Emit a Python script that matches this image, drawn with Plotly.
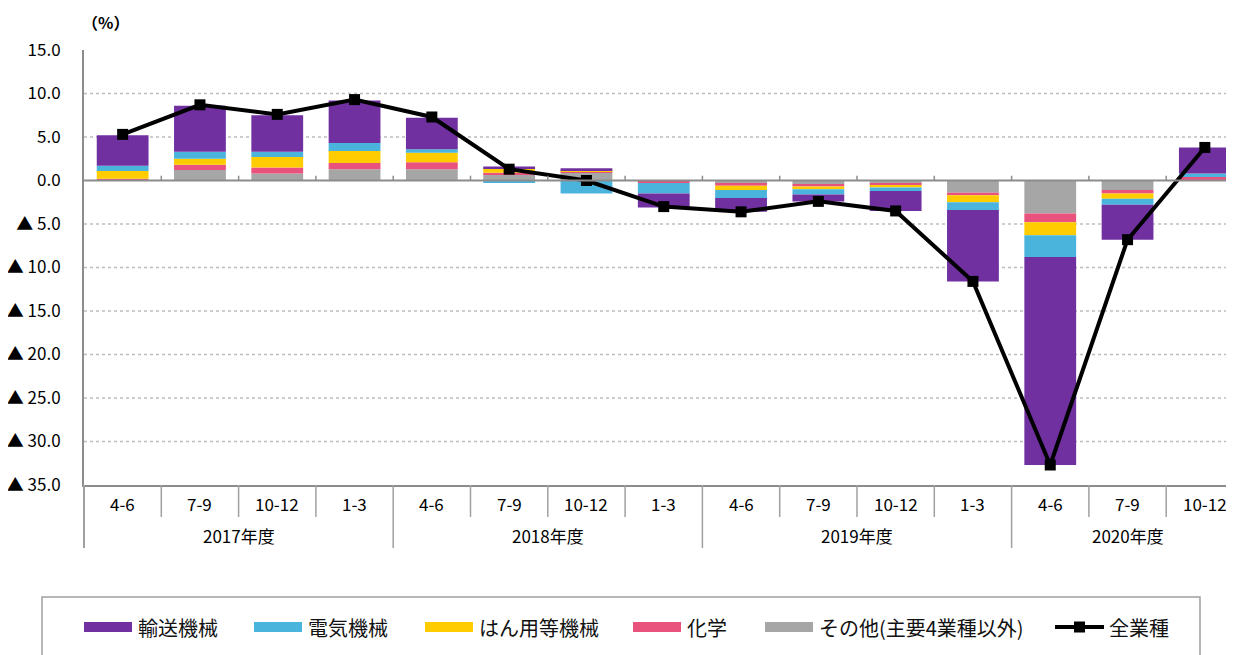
import plotly.graph_objects as go

# ---------------- data ----------------
quarters = ["4-6", "7-9", "10-12", "1-3",
            "4-6", "7-9", "10-12", "1-3",
            "4-6", "7-9", "10-12", "1-3",
            "4-6", "7-9", "10-12"]
years = ["2017年度", "2018年度", "2019年度", "2020年度"]
year_spans = [(0, 3), (4, 7), (8, 11), (12, 14)]

series_names = ["輸送機械", "電気機械", "はん用等機械", "化学", "その他(主要4業種以外)"]
total_name = "全業種"

transport = [3.5, 5.3, 4.2, 4.9, 3.6, 0.2, 0.2, -1.6, -1.6, -0.8, -2.3, -8.2, -23.9, -4.0, 3.0]
electric = [0.6, 0.8, 0.6, 0.9, 0.4, -0.3, -1.5, -1.2, -0.9, -0.6, -0.4, -0.9, -2.5, -0.7, 0.4]
general = [0.9, 0.7, 1.2, 1.4, 1.1, 0.5, 0.15, 0.0, -0.5, -0.3, -0.2, -0.8, -1.5, -0.6, 0.0]
chemical = [0.15, 0.6, 0.7, 0.7, 0.8, 0.2, 0.15, -0.2, -0.2, -0.3, -0.2, -0.3, -1.0, -0.4, 0.4]
other = [0.05, 1.2, 0.8, 1.3, 1.3, 0.7, 0.9, -0.1, -0.4, -0.4, -0.4, -1.4, -3.8, -1.1, 0.0]
total = [5.3, 8.7, 7.6, 9.3, 7.3, 1.3, 0.0, -3.0, -3.6, -2.4, -3.5, -11.6, -32.7, -6.8, 3.8]

y_tickvals = [15, 10, 5, 0, -5, -10, -15, -20, -25, -30, -35]
y_ticktext = ["15.0", "10.0", "5.0", "0.0", "▲ 5.0", "▲ 10.0", "▲ 15.0",
              "▲ 20.0", "▲ 25.0", "▲ 30.0", "▲ 35.0"]

colors = {
    "輸送機械": "#7030A0",
    "電気機械": "#4AB4DD",
    "はん用等機械": "#FFCC00",
    "化学": "#E9527D",
    "その他(主要4業種以外)": "#A6A6A6",
}

# ---------------- layout geometry (page px -> figure) ----------------
OFF = 8                 # browser body margin
W, H = 1234 - OFF, 655 - OFF
PAGE_L, PAGE_T, PAGE_B = 84, 50, 485
L = PAGE_L - OFF
T = PAGE_T - OFF
B = H - (PAGE_B - OFF)
PLOT_H = PAGE_B - PAGE_T
PLOT_W = W - L
CAT_W = 77.3
x_range = [-0.5, -0.5 + PLOT_W / CAT_W]


def px_x(x):   # page x -> paper
    return (x - PAGE_L) / PLOT_W


def px_y(y):   # page y -> paper
    return (PAGE_B - y) / PLOT_H


FONT = "Noto Sans CJK JP"
TXT = "#000000"
xs = list(range(len(quarters)))

fig = go.Figure()

stack = [("その他(主要4業種以外)", other), ("化学", chemical),
         ("はん用等機械", general), ("電気機械", electric), ("輸送機械", transport)]
for name, vals in stack:
    fig.add_trace(go.Bar(
        x=xs, y=vals, name=name, width=0.67,
        marker=dict(color=colors[name], line=dict(width=0)),
        showlegend=False,
    ))

fig.add_trace(go.Scatter(
    x=xs, y=total, name=total_name, mode="lines+markers",
    line=dict(color="black", width=4),
    marker=dict(symbol="square", size=11, color="black"),
    showlegend=False,
))

shapes = []
for v in [10, 5, -5, -10, -15, -20, -25, -30]:
    shapes.append(dict(type="line", xref="paper", yref="y", x0=0, x1=1, y0=v, y1=v,
                       line=dict(color="#BDBDBD", width=1.5, dash="dot"), layer="below"))
shapes.append(dict(type="line", xref="paper", yref="y", x0=0, x1=1, y0=0, y1=0,
                   line=dict(color="#8C8C8C", width=2), layer="above"))
for i in range(len(quarters) - 1):
    shapes.append(dict(type="line", xref="x", yref="y", x0=i + 0.5, x1=i + 0.5,
                       y0=0, y1=0.55, line=dict(color="#8C8C8C", width=1.5)))
year_bounds = [s[0] - 0.5 for s in year_spans]
for i in range(1, len(quarters)):
    xb = i - 0.5
    y1 = px_y(548) if xb in year_bounds else px_y(517)
    shapes.append(dict(type="line", xref="x", yref="paper", x0=xb, x1=xb,
                       y0=0, y1=y1, line=dict(color="#A0A0A0", width=1.5)))
shapes.append(dict(type="line", xref="paper", yref="paper", x0=0, x1=0,
                   y0=0, y1=px_y(548), line=dict(color="#A0A0A0", width=2)))

annotations = []
for i, q in enumerate(quarters):
    annotations.append(dict(x=i, y=px_y(503), xref="x", yref="paper", text=q,
                            showarrow=False, font=dict(family=FONT, size=17, color=TXT),
                            xanchor="center", yanchor="middle"))
for yname, (a, b) in zip(years, year_spans):
    annotations.append(dict(x=(a + b) / 2, y=px_y(535), xref="x", yref="paper", text=yname,
                            showarrow=False, font=dict(family=FONT, size=17, color=TXT),
                            xanchor="center", yanchor="middle"))
annotations.append(dict(x=px_x(105), y=px_y(22), xref="paper", yref="paper", text="<b>（%）</b>",
                        showarrow=False, font=dict(family=FONT, size=16, color=TXT),
                        xanchor="center", yanchor="middle"))

# ---------------- custom legend ----------------
shapes.append(dict(type="rect", xref="paper", yref="paper",
                   x0=px_x(42), x1=px_x(1200), y0=px_y(597), y1=px_y(720),
                   line=dict(color="#A0A0A0", width=1.5), fillcolor="rgba(0,0,0,0)"))
leg_y = 627
swatch_x = [84, 254, 425, 633, 765]
for name, sx in zip(series_names, swatch_x):
    shapes.append(dict(type="rect", xref="paper", yref="paper",
                       x0=px_x(sx), x1=px_x(sx + 48), y0=px_y(leg_y + 5), y1=px_y(leg_y - 5),
                       line=dict(width=0), fillcolor=colors[name]))
    annotations.append(dict(x=px_x(sx + 52), y=px_y(leg_y), xref="paper", yref="paper",
                            text=name, showarrow=False,
                            font=dict(family=FONT, size=20, color="#111"),
                            xanchor="left", yanchor="middle"))
shapes.append(dict(type="line", xref="paper", yref="paper",
                   x0=px_x(1055), x1=px_x(1104), y0=px_y(leg_y), y1=px_y(leg_y),
                   line=dict(color="black", width=4)))
shapes.append(dict(type="rect", xref="paper", yref="paper",
                   x0=px_x(1074), x1=px_x(1085), y0=px_y(leg_y + 5.5), y1=px_y(leg_y - 5.5),
                   line=dict(width=0), fillcolor="black"))
annotations.append(dict(x=px_x(1107), y=px_y(leg_y), xref="paper", yref="paper",
                        text=total_name, showarrow=False,
                        font=dict(family=FONT, size=20, color="#111"),
                        xanchor="left", yanchor="middle"))

fig.update_layout(
    width=W, height=H,
    margin=dict(l=L, r=0, t=T, b=B, pad=0),
    barmode="relative",
    plot_bgcolor="white", paper_bgcolor="white",
    font=dict(family=FONT, size=17, color=TXT),
    shapes=shapes,
    annotations=annotations,
    showlegend=False,
    xaxis=dict(range=x_range, showgrid=False, zeroline=False, showticklabels=False,
               ticks="", showline=True, linecolor="#8C8C8C", linewidth=2, fixedrange=True),
    yaxis=dict(range=[-35, 15], tickvals=y_tickvals, ticktext=y_ticktext,
               showgrid=False, zeroline=False, ticks="", showline=True,
               linecolor="#8C8C8C", linewidth=2, ticklabelstandoff=18,
               tickfont=dict(family=FONT, size=17, color=TXT), fixedrange=True),
)

fig.write_html("out.html")
